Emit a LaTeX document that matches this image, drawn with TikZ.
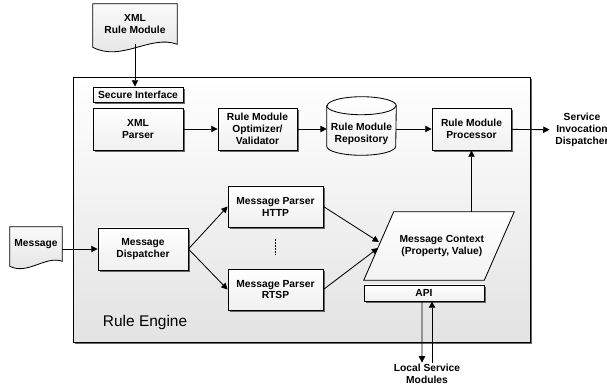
\documentclass[tikz,border=0pt]{standalone}
\usepackage{fontspec}
\setmainfont{Liberation Sans}
\usetikzlibrary{shadows,arrows.meta,calc}

\begin{document}
\begin{tikzpicture}[
  every node/.style={font=\bfseries\fontsize{7.3}{8.5}\selectfont, align=center},
  box/.style={draw, line width=0.6pt, top color=white, bottom color=gray!12,
    drop shadow={shadow xshift=1.1pt, shadow yshift=-1.1pt, opacity=1, fill=black!60},
    inner sep=1pt},
  docfill/.style={draw, line width=0.6pt, top color=gray!4, bottom color=gray!22},
  plainfill/.style={draw, line width=0.6pt, top color=white, bottom color=gray!10},
  arr/.style={line width=0.6pt, -{Triangle[length=4.5pt,width=4.5pt]}},
]
\useasboundingbox (0,0) rectangle (15.175,9.75);

\node[draw, line width=0.7pt, top color=white, bottom color=gray!22,
  drop shadow={shadow xshift=1.6pt, shadow yshift=-1.6pt, opacity=1, fill=black!60},
  minimum width=11.425cm, minimum height=6.625cm] at (7.5375,4.5125) (engine) {};
\node[anchor=west, font=\fontsize{11}{13}\selectfont] at (2.45,1.675) (label) {Rule Engine};

% the two input documents
\node[minimum width=2.1cm, minimum height=1cm] at (3.375,9.15) (xmlrm) {};
\draw[docfill] (xmlrm.north west) -- (xmlrm.north east) -- (xmlrm.south east)
  .. controls +(-0.675,0.25) and +(0.725,-0.375) .. ($(xmlrm.south west)+(0,-0.075)$) -- cycle;
\node at (xmlrm) {XML\\Rule Module};

\node[minimum width=1.3cm, minimum height=0.85cm] at (0.9,3.65) (msg) {};
\draw[docfill] (msg.north west) -- (msg.north east) -- (msg.south east)
  .. controls +(-0.42,0.15) and +(0.45,-0.225) .. ($(msg.south west)+(0,-0.125)$) -- cycle;
\node at (msg) {Message};

\node[box, minimum width=2.25cm, minimum height=0.375cm] at (3.45,7.3875) (sec) {Secure Interface};
\node[box, minimum width=2.25cm, minimum height=1.05cm] at (3.45,6.525) (xmlp) {XML\\Parser};
\node[box, minimum width=1.975cm, minimum height=1.05cm] at (6.4375,6.525) (opt) {Rule Module\\Optimizer/\\Validator};

% repository drum
\node[minimum width=1.725cm, minimum height=1.45cm] at (9.0375,6.6) (repo) {};
\draw[plainfill] ([yshift=-0.225cm]repo.north west) -- ([yshift=0.225cm]repo.south west)
  arc[start angle=180, end angle=360, x radius=0.8625cm, y radius=0.225cm]
  -- ([yshift=-0.225cm]repo.north east)
  arc[start angle=0, end angle=180, x radius=0.8625cm, y radius=0.225cm] -- cycle;
\draw[line width=0.6pt] ([yshift=-0.225cm]repo.north west)
  arc[start angle=180, end angle=360, x radius=0.8625cm, y radius=0.225cm];
\node at ([yshift=-0.2cm]repo) {Rule Module\\Repository};

\node[box, minimum width=1.975cm, minimum height=1.05cm] at (11.7875,6.525) (proc) {Rule Module\\Processor};
\node[inner sep=4pt] at (14.55,6.5) (svc) {Service\\Invocation\\Dispatcher};

\node[box, minimum width=2.25cm, minimum height=1.05cm] at (3.575,3.525) (disp) {Message\\Dispatcher};
\node[box, minimum width=2.375cm, minimum height=1.025cm] at (6.8875,4.5875) (http) {Message Parser\\HTTP};
\node[box, minimum width=2.375cm, minimum height=1.025cm] at (6.8875,2.5125) (rtsp) {Message Parser\\RTSP};

% message context, slanted
\node[minimum width=3.75cm, minimum height=1.7cm] at (10.975,3.6) (ctx) {};
\draw[plainfill] (ctx.south west) -- ([xshift=0.75cm]ctx.north west) -- (ctx.north east)
  -- ([xshift=-0.75cm]ctx.south east) -- cycle;
\node at ([xshift=0.07cm]ctx) {Message Context\\(Property, Value)};

\node[box, minimum width=3cm, minimum height=0.4cm] at (10.6,2.425) (api) {API};
\node[inner sep=1pt] at (10.675,0.4) (lsm) {Local Service\\Modules};

\draw[arr] (xmlrm.south) -- (xmlrm.south |- sec.north);
\draw[arr] (xmlp) -- (opt);
\draw[arr] (opt) -- (repo.west |- opt);
\draw[arr] (repo.east |- proc) -- (proc);
\draw[arr] (proc) -- (svc);
\draw[arr] (msg.east |- disp) -- (disp);
\draw[arr] (disp.east) -- (http.west);
\draw[arr] (disp.east) -- (rtsp.west);
\draw[arr] (http.east) -- ([xshift=0.38cm,yshift=0.1cm]ctx.west);
\draw[arr] (rtsp.east) -- ([xshift=0.36cm,yshift=-0.05cm]ctx.west);
\draw[line width=1.4pt, dash pattern=on 1.1pt off 1pt, shorten <=0.3cm, shorten >=0.35cm] (http) -- (rtsp);
\draw[arr] (proc.south |- ctx.north) -- (proc.south);
\draw[arr] ([xshift=-0.05cm]api.south) -- ([xshift=-0.125cm]lsm.north);
\draw[arr] ([xshift=0.125cm]lsm.north) -- ([xshift=0.2cm]api.south);
\end{tikzpicture}
\end{document}
